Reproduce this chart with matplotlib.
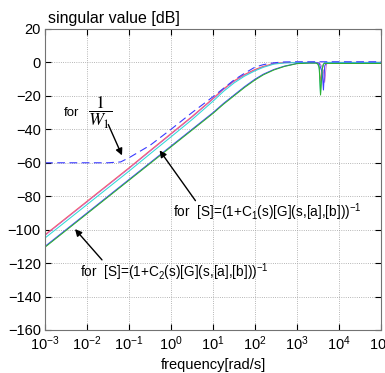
# sensitivity singular value plot, redrawn from the reference picture
import numpy as np
import matplotlib
matplotlib.use("Agg")
import matplotlib.pyplot as plt

plt.rcParams["font.family"] = ["Liberation Sans", "DejaVu Sans"]
plt.rcParams["mathtext.fontset"] = "custom"
plt.rcParams["mathtext.rm"] = "Liberation Sans"
plt.rcParams["mathtext.it"] = "Liberation Sans:italic"
plt.rcParams["mathtext.bf"] = "Liberation Sans:bold"

# log10 of frequency [rad/s]
log_w = [-3, -2, -1.5, -1.2, -1, -0.5, 0, 0.5, 1, 1.25, 1.5, 1.75, 2, 2.2, 2.45,
         2.7, 3, 3.3, 3.45, 3.5, 3.53, 3.56, 3.6, 3.63, 3.66, 3.7, 3.8, 4, 5]

# 1/W1 weight (dashed)
inv_w1 = [-60, -60, -60, -59.5, -57, -49.6, -40, -30, -20.5, -15.5, -10.5, -6.5,
          -2.8, -1.3, -0.2, 0.3, 0.4, 0.4, 0.4, 0.4, 0.4, 0.4, 0.4, 0.4, 0.4, 0.4,
          0.4, 0.4, 0.4]

# S with C1 (upper group)
s1_red = [-103, -83, -73, -67, -63, -52.7, -42.5, -32.3, -21.5, -15.8, -11, -7.2,
          -4.2, -2.3, -0.6, -0.1, 0, 0, 0, -1, -3, -12, -4, -1, 0, 0, 0, 0, 0]
s1_mag = [-103.5, -83.5, -73.5, -67.5, -63.5, -53.2, -43, -32.8, -22, -16.3, -11.5,
          -7.6, -4.6, -2.6, -0.8, -0.2, 0, 0, 0, 0, -0.5, -1, -3, -5, -12, -1, 0, 0, 0]
s1_cyan = [-105, -85, -75, -69, -65, -54.7, -44.5, -34.2, -23.2, -17.3, -12.3, -8.2,
           -5, -2.9, -1, -0.3, -0.1, 0, 0, -1, -4, -19, -3, -1, 0, 0, 0, 0, 0]

# S with C2 (lower group)
s2_blue = [-110, -90, -80, -74, -70, -60, -50, -40, -30, -24.5, -19.5, -14.5, -10,
           -7, -4.2, -2.2, -0.6, -0.3, -0.3, -0.3, -0.5, -3, -6, -16.5, -2, -0.5,
           -0.5, -0.5, -0.5]
s2_green = [-110.5, -90.5, -80.5, -74.5, -70.5, -60.5, -50.5, -40.5, -30.5, -25,
            -20, -15, -10.5, -7.4, -4.5, -2.4, -0.7, -0.4, -0.4, -1, -3, -19.5, -4,
            -1, -0.6, -0.6, -0.6, -0.6, -0.6]

w = 10.0 ** np.array(log_w)

fig = plt.figure(figsize=(3.85, 3.73), dpi=100)
ax = fig.add_axes([45 / 385, 43 / 373, 336 / 385, 301 / 373])

ax.semilogx(w, s1_red, color="#ff5a5a", lw=0.75)
ax.semilogx(w, s1_mag, color="#c050c0", lw=0.5)
ax.semilogx(w, s1_cyan, color="#30d8d8", lw=0.75)
ax.semilogx(w, s2_blue, color="#4040ff", lw=0.75)
ax.semilogx(w, s2_green, color="#30b030", lw=0.75)
ax.semilogx(w, inv_w1, color="#3a3aff", lw=0.8, ls=(0, (7, 4)))

ax.set_xlim(1e-3, 1e5)
ax.set_ylim(-160, 20)
ax.set_yticks(np.arange(-160, 21, 20))
ax.set_xticks([10.0 ** k for k in range(-3, 6)])
ax.grid(True, which="major", color="0.62", ls=":", lw=0.6)
ax.grid(True, which="minor", axis="x", color="0.72", ls=":", lw=0.5)
ax.tick_params(which="both", direction="in", labelsize=10.5, top=True, right=True)
ax.tick_params(which="major", length=4, pad=3)
ax.tick_params(which="minor", length=2)
for sp in ax.spines.values():
    sp.set_color("0.45")
    sp.set_linewidth(0.8)

fig.text(48 / 385, 1 - 18 / 373, "singular value [dB]", fontsize=11.5, va="center")
ax.set_xlabel("frequency[rad/s]", fontsize=10.5, labelpad=4)

# annotations
ax.text(10 ** -2.55, -30, "for", fontsize=9.5, va="center")
ax.text(10 ** -1.97, -30, r"$\dfrac{1}{W_1}$", fontsize=13, va="center",
        math_fontfamily="stix")
ax.annotate("", xy=(10 ** -1.14, -57.1), xytext=(10 ** -1.52, -35.6),
            arrowprops=dict(arrowstyle="-|>", color="k", lw=1, mutation_scale=10))

ax.text(10 ** 0.05, -89.4, r"for  [S]=(1+C$_1$(s)[G](s,[a],[b]))$^{-1}$",
        fontsize=9.8, va="center")
ax.annotate("", xy=(10 ** -0.31, -51.2), xytext=(10 ** 0.62, -84),
            arrowprops=dict(arrowstyle="-|>", color="k", lw=1, mutation_scale=10))

ax.text(10 ** -2.17, -125.3, r"for  [S]=(1+C$_2$(s)[G](s,[a],[b]))$^{-1}$",
        fontsize=9.8, va="center")
ax.annotate("", xy=(10 ** -2.33, -98.4), xytext=(10 ** -1.6, -119.3),
            arrowprops=dict(arrowstyle="-|>", color="k", lw=1, mutation_scale=10))

fig.savefig("out.png", dpi=100)
